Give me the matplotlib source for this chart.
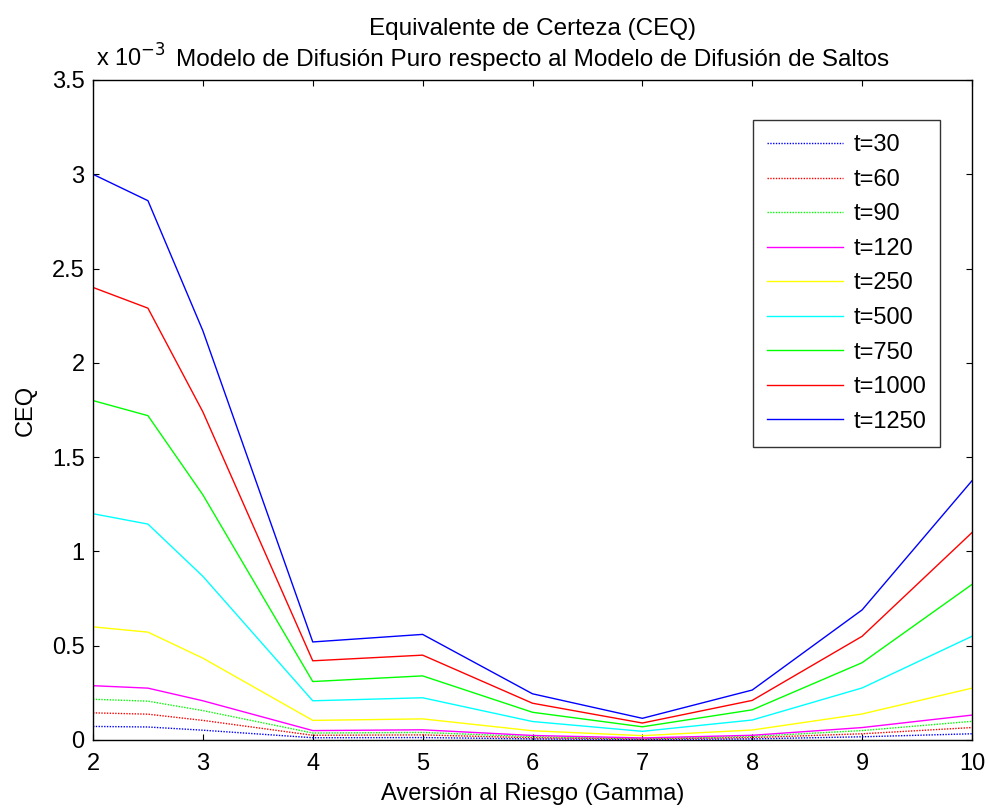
import matplotlib
matplotlib.use("Agg")
import matplotlib.pyplot as plt

gamma = [2, 2.5, 3, 4, 5, 6, 7, 8, 9, 10]
labels = ["t=30", "t=60", "t=90", "t=120", "t=250", "t=500", "t=750", "t=1000", "t=1250"]
# CEQ values in units of 1e-3
ceq_t30 = [0.072, 0.069, 0.052, 0.012, 0.013, 0.006, 0.003, 0.006, 0.017, 0.033]
ceq_t60 = [0.144, 0.137, 0.104, 0.025, 0.027, 0.012, 0.0055, 0.013, 0.033, 0.066]
ceq_t90 = [0.216, 0.206, 0.156, 0.037, 0.040, 0.018, 0.008, 0.019, 0.050, 0.099]
ceq_t120 = [0.288, 0.275, 0.208, 0.050, 0.054, 0.024, 0.011, 0.025, 0.066, 0.132]
ceq_t250 = [0.600, 0.572, 0.434, 0.104, 0.112, 0.049, 0.023, 0.053, 0.138, 0.275]
ceq_t500 = [1.200, 1.145, 0.868, 0.208, 0.224, 0.098, 0.046, 0.106, 0.276, 0.550]
ceq_t750 = [1.800, 1.720, 1.300, 0.310, 0.340, 0.147, 0.070, 0.160, 0.410, 0.825]
ceq_t1000 = [2.400, 2.290, 1.740, 0.420, 0.450, 0.195, 0.090, 0.210, 0.550, 1.100]
ceq_t1250 = [3.000, 2.860, 2.170, 0.520, 0.560, 0.245, 0.115, 0.265, 0.690, 1.375]
series = [ceq_t30, ceq_t60, ceq_t90, ceq_t120, ceq_t250, ceq_t500, ceq_t750, ceq_t1000, ceq_t1250]
colors = ["#0000ff", "#ff0000", "#00ff00", "#ff00ff", "#ffff00", "#00ffff", "#00ff00", "#ff0000", "#0000ff"]
styles = [(0, (1, 1)), (0, (1, 1)), (0, (1, 1)), "-", "-", "-", "-", "-", "-"]
xticks = [2, 3, 4, 5, 6, 7, 8, 9, 10]
yticks = [0, 0.5, 1, 1.5, 2, 2.5, 3, 3.5]
ytick_labels = ["0", "0.5", "1", "1.5", "2", "2.5", "3", "3.5"]

FS = 17
plt.rcParams['font.family'] = ['Liberation Sans', 'DejaVu Sans']
fig = plt.figure(figsize=(9.89, 8.09), dpi=100)
ax = fig.add_axes([93/989, 1-740/809, (972-93)/989, (740-80)/809])

for vals, lab, c, ls in zip(series, labels, colors, styles):
    ax.plot(gamma, vals, color=c, linestyle=ls, linewidth=1.0, label=lab)

ax.set_xlim(2, 10)
ax.set_ylim(0, 3.5)
ax.set_xticks(xticks)
ax.set_xticklabels([str(v) for v in xticks])
ax.set_yticks(yticks)
ax.set_yticklabels(ytick_labels)
ax.tick_params(direction='in', top=True, right=True, length=4, width=0.8, labelsize=FS)
ax.tick_params(axis='x', pad=9)
ax.tick_params(axis='y', pad=6)
for s in ax.spines.values():
    s.set_linewidth(1.0)

ax.set_xlabel("Aversión al Riesgo (Gamma)", fontsize=FS, labelpad=6)
ax.set_ylabel("CEQ", fontsize=FS, labelpad=11)
ax.set_title("Equivalente de Certeza (CEQ)\nModelo de Difusión Puro respecto al Modelo de Difusión de Saltos",
             fontsize=FS + 0.5, pad=10, linespacing=1.55)
ax.text(0.003, 1.012, r"x 10$^{-3}$", transform=ax.transAxes, fontsize=FS, ha='left', va='bottom')

leg = ax.legend(loc='upper right', bbox_to_anchor=(0.964, 0.939), fontsize=FS, frameon=True,
                fancybox=False, edgecolor='black', handlelength=3.2, handletextpad=0.45,
                labelspacing=0.53, borderpad=0.6, borderaxespad=0)
leg.get_frame().set_linewidth(1.0)

fig.savefig("out.png", dpi=100)
